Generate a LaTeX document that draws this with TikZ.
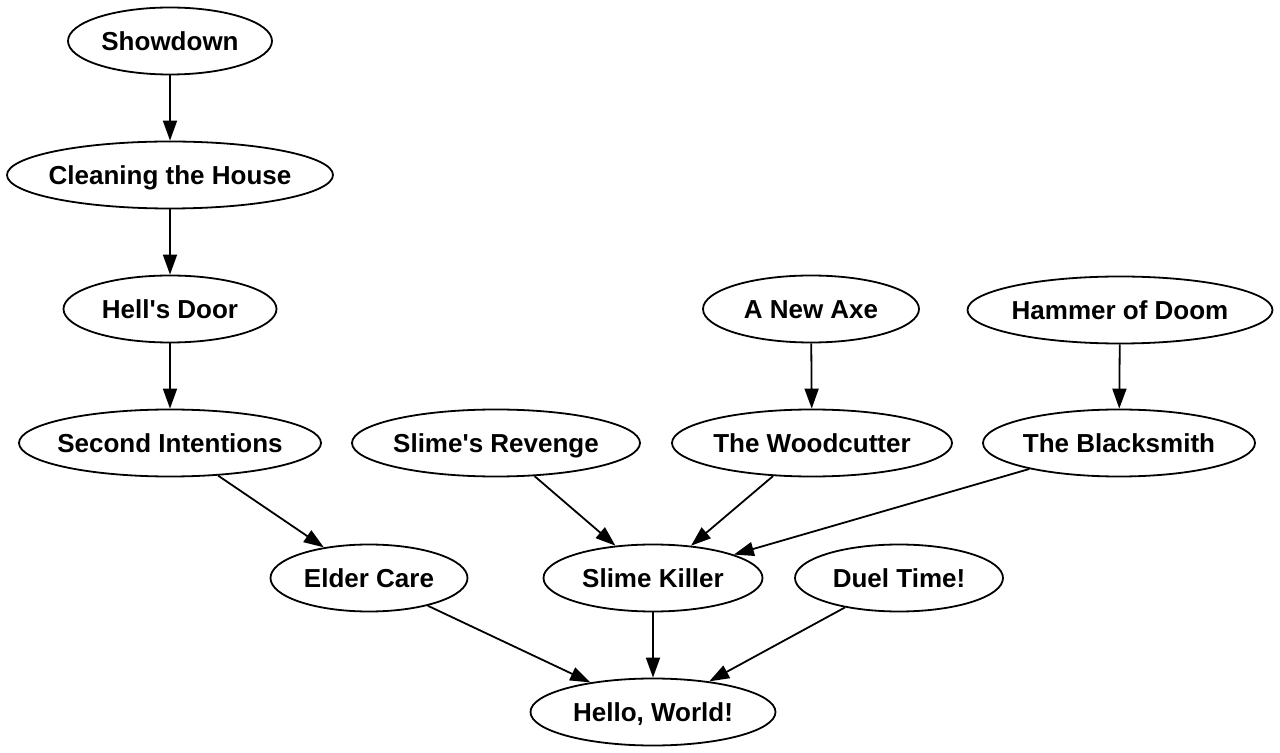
\documentclass[tikz,border=0pt]{standalone}
\usepackage{fontspec}
\setmainfont{Liberation Sans}
\usetikzlibrary{shapes.geometric, arrows.meta}
\newcommand{\questname}[1]{\makebox[0pt]{#1}}

\begin{document}
\begin{tikzpicture}[
        x=0.5pt, y=-0.5pt,
        quest/.style={ellipse, draw=black, line width=0.9pt, fill=white, minimum height=33.5pt, inner sep=0pt, text height=9.3pt, text depth=0pt, font=\bfseries\fontsize{13}{15}\selectfont},
        arrow/.style={-{Triangle[length=10pt, width=7pt]}, line width=0.9pt, black}
    ]
        \useasboundingbox (0,0) rectangle (1280,753);
        % left chain
        \node[quest, minimum width=102pt] (showdown) at (170,41) {\questname{Showdown}};
        \node[quest, minimum width=163pt] (cleaning) at (170,175) {\questname{Cleaning the House}};
        \node[quest, minimum width=106.5pt] (hellsdoor) at (170,309) {\questname{Hell\textquotesingle s Door}};
        \node[quest, minimum width=151pt] (second) at (170,443) {\questname{Second Intentions}};
        % upper right
        \node[quest, minimum width=108pt] (newaxe) at (811,309) {\questname{A New Axe}};
        \node[quest, minimum width=152.5pt] (hammer) at (1120,310) {\questname{Hammer of Doom}};
        \node[quest, minimum width=144pt] (slimerevenge) at (496,443) {\questname{Slime\textquotesingle s Revenge}};
        \node[quest, minimum width=140pt] (woodcutter) at (812,443) {\questname{The Woodcutter}};
        \node[quest, minimum width=136pt] (blacksmith) at (1119,443) {\questname{The Blacksmith}};
        % lower rows
        \node[quest, minimum width=98.5pt] (eldercare) at (369,578) {\questname{Elder Care}};
        \node[quest, minimum width=109.5pt] (slimekiller) at (653,578) {\questname{Slime Killer}};
        \node[quest, minimum width=104pt] (dueltime) at (899,578) {\questname{Duel Time!}};
        \node[quest, minimum width=122.5pt] (hello) at (653,712) {\questname{Hello, World!}};

        \draw[arrow] (showdown) -- (cleaning);
        \draw[arrow] (cleaning) -- (hellsdoor);
        \draw[arrow] (hellsdoor) -- (second);
        \draw[arrow] (second) -- (eldercare);
        \draw[arrow] (newaxe) -- (woodcutter);
        \draw[arrow] (hammer) -- (blacksmith);
        \draw[arrow] (slimerevenge) -- (slimekiller);
        \draw[arrow] (woodcutter) -- (slimekiller);
        \draw[arrow] (blacksmith) -- (slimekiller);
        \draw[arrow] (eldercare) -- (hello);
        \draw[arrow] (slimekiller) -- (hello);
        \draw[arrow] (dueltime) -- (hello);
    \end{tikzpicture}
\end{document}
